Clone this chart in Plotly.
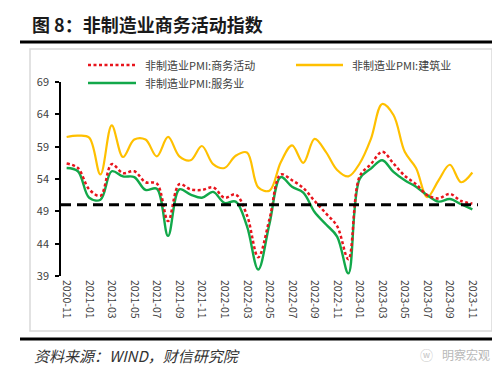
import plotly.graph_objects as go

months = ["2020-11","2020-12","2021-01","2021-02","2021-03","2021-04","2021-05","2021-06",
          "2021-07","2021-08","2021-09","2021-10","2021-11","2021-12","2022-01","2022-02",
          "2022-03","2022-04","2022-05","2022-06","2022-07","2022-08","2022-09","2022-10",
          "2022-11","2022-12","2023-01","2023-02","2023-03","2023-04","2023-05","2023-06",
          "2023-07","2023-08","2023-09","2023-10","2023-11"]

business = [56.4,55.7,52.4,51.4,56.3,54.9,55.2,53.5,53.3,47.5,53.2,52.4,52.3,52.7,51.1,51.6,
            48.4,41.9,47.8,54.7,53.8,52.6,50.6,48.7,46.7,41.6,54.4,56.3,58.2,56.4,54.5,53.2,
            51.5,51.0,51.7,50.6,50.2]
construction = [60.5,60.7,60.4,54.7,62.3,57.4,60.1,60.1,57.5,60.5,57.5,56.9,59.1,56.3,55.7,57.6,
                58.1,52.7,52.2,56.6,59.2,56.5,60.2,58.2,55.4,54.4,56.4,60.2,65.6,63.9,58.2,55.7,
                51.2,53.8,56.2,53.5,55.0]
services = [55.7,55.2,51.1,50.8,55.2,54.4,54.3,52.3,52.5,45.2,52.4,51.6,51.1,52.0,50.3,50.5,
            46.7,40.0,47.1,54.3,52.8,51.9,48.9,47.0,45.1,39.4,54.0,55.6,56.9,55.1,53.8,52.8,
            51.5,50.5,50.9,50.1,49.3]

names = ["非制造业PMI:商务活动", "非制造业PMI:建筑业", "非制造业PMI:服务业"]
threshold = 50
y_ticks = [39, 44, 49, 54, 59, 64, 69]

W, H = 500, 366
L, R, T, B = 53, 470, 74, 268  # plot area in pixels

def px(x):
    return (x - L) / (R - L)

def py(y):
    return (B - y) / (B - T)

FONT = "Noto Sans CJK SC"
RED, YEL, GRN = "#e8141c", "#ffc000", "#12a84a"

idx = list(range(len(months)))
fig = go.Figure()
fig.add_trace(go.Scatter(x=idx, y=construction, mode="lines", name=names[1],
                         line=dict(color=YEL, width=2.2, shape="spline", smoothing=1),
                         showlegend=False))
fig.add_trace(go.Scatter(x=idx, y=services, mode="lines", name=names[2],
                         line=dict(color=GRN, width=2.4, shape="spline", smoothing=1),
                         showlegend=False))
fig.add_trace(go.Scatter(x=idx, y=business, mode="lines", name=names[0],
                         line=dict(color=RED, width=2.5, shape="spline", smoothing=1, dash="3px,2.5px"),
                         showlegend=False))

shapes = []
# threshold dashed line
shapes.append(dict(type="line", xref="paper", yref="y", x0=0, x1=1, y0=threshold, y1=threshold,
                   line=dict(color="black", width=3, dash="10px,6px"), layer="above"))
# chart frame
shapes.append(dict(type="rect", xref="paper", yref="paper", x0=px(22), x1=px(484), y0=py(323), y1=py(41),
                   line=dict(color="#d9d9d9", width=1.5), layer="below"))
# thick black rules
shapes.append(dict(type="line", xref="paper", yref="paper", x0=px(12), x1=px(495), y0=py(34), y1=py(34),
                   line=dict(color="black", width=3)))
shapes.append(dict(type="line", xref="paper", yref="paper", x0=px(12), x1=px(495), y0=py(331), y1=py(331),
                   line=dict(color="black", width=3)))
# legend samples
shapes.append(dict(type="line", xref="paper", yref="paper", x0=px(80), x1=px(128), y0=py(57), y1=py(57),
                   line=dict(color=RED, width=2.5, dash="3px,2.5px")))
shapes.append(dict(type="line", xref="paper", yref="paper", x0=px(288), x1=px(335), y0=py(57), y1=py(57),
                   line=dict(color=YEL, width=2.6)))
shapes.append(dict(type="line", xref="paper", yref="paper", x0=px(80), x1=px(128), y0=py(75), y1=py(75),
                   line=dict(color=GRN, width=2.6)))

ann = []
def text(x, y, s, size, color, anchor="left", **kw):
    ann.append(dict(xref="paper", yref="paper", x=px(x), y=py(y), text=s, showarrow=False,
                    xanchor=anchor, yanchor="middle", font=dict(size=size, color=color, family=FONT, **kw)))

text(135, 57, names[0], 11, "#404040")
text(342, 57, names[1], 11, "#404040")
text(135, 75, names[2], 11, "#404040")
text(22, 16, "<b>图 8：非制造业商务活动指数</b>", 18, "#1a1a1a")
text(24, 347, "<i>资料来源：WIND，财信研究院</i>", 15, "#333333")
text(484, 346, "明察宏观", 12, "#b8b8b8", anchor="right")
text(418, 346, "ⓦ", 13, "#c8c8c8", anchor="center")

fig.update_layout(
    width=W, height=H,
    margin=dict(l=L, r=W - R, t=T, b=H - B),
    paper_bgcolor="white", plot_bgcolor="white",
    shapes=shapes, annotations=ann,
    font=dict(family=FONT, size=11, color="#404040"),
    xaxis=dict(range=[-0.5, len(months) - 0.5], tickmode="array",
               tickvals=idx[::2], ticktext=months[::2], tickangle=90,
               showline=False, showgrid=False, zeroline=False, ticks="",
               tickfont=dict(size=10.5, color="#404040", family=FONT), ticklabelstandoff=3),
    yaxis=dict(range=[39, 69], tickmode="array", tickvals=y_ticks,
               showline=True, linecolor="black", linewidth=1.5, showgrid=False, zeroline=False,
               ticks="outside", ticklen=4, tickcolor="black", tickwidth=1.5, ticklabelstandoff=4,
               tickfont=dict(size=11, color="#404040", family=FONT)),
)

fig.write_html("out.html")
